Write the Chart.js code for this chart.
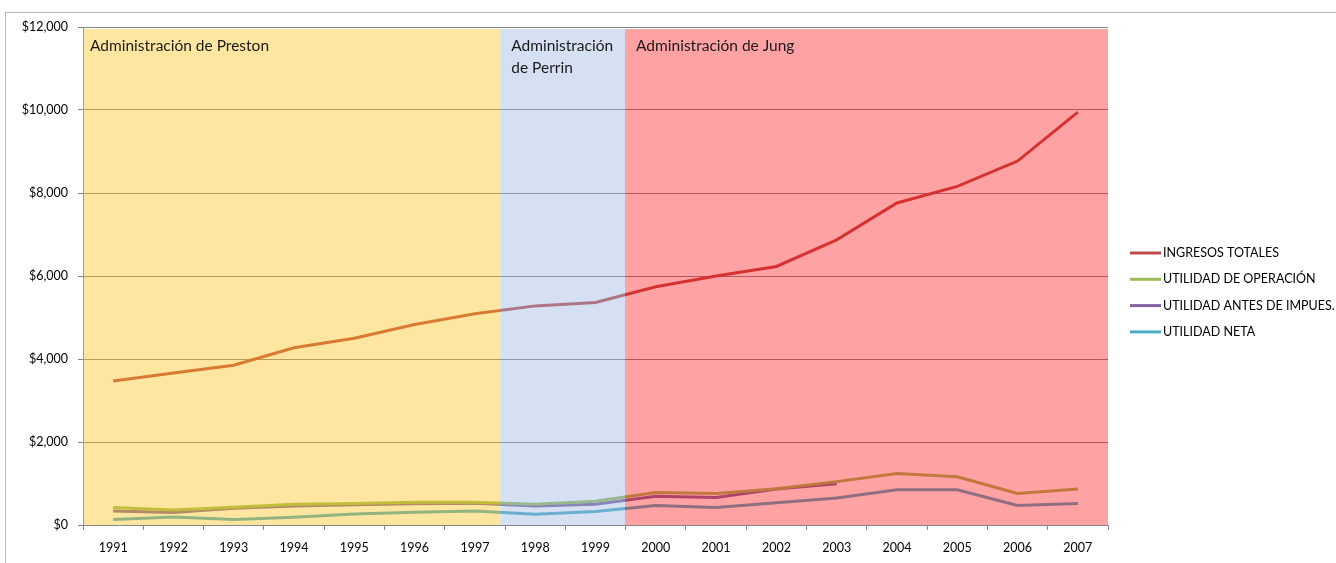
<!DOCTYPE html>
<html>
<head>
<meta charset="utf-8">
<script src="https://cdn.jsdelivr.net/npm/chart.js@4/dist/chart.umd.min.js"></script>
<style>
  html, body { margin: 0; padding: 0; background: #ffffff; }
  #wrap { width: 1336px; height: 563px; }
</style>
</head>
<body>
<div id="wrap"><canvas id="c" width="1336" height="563"></canvas></div>
<script>
const years = ['1991','1992','1993','1994','1995','1996','1997','1998','1999','2000','2001','2002','2003','2004','2005','2006','2007'];
const ingresosTotales = [3470, 3660, 3850, 4270, 4500, 4830, 5090, 5280, 5360, 5740, 6000, 6230, 6870, 7760, 8160, 8770, 9950];
const utilidadOperacion = [420, 360, 430, 500, 520, 550, 550, 500, 570, 785, 760, 875, 1045, 1240, 1160, 760, 865];
const utilidadAntesImpues = [340, 300, 405, 460, 485, 510, 527, 455, 500, 690, 665, 866, 995, null, null, null, null];
const utilidadNeta = [130, 195, 130, 185, 267, 308, 340, 260, 325, 470, 420, 535, 650, 850, 850, 470, 520];
const seriesNames = ['INGRESOS TOTALES', 'UTILIDAD DE OPERACIÓN', 'UTILIDAD ANTES DE IMPUES.', 'UTILIDAD NETA'];
const seriesColors = ['#BE4B48', '#9BBB59', '#8064A2', '#4BACC6'];
const yTicks = [0, 2000, 4000, 6000, 8000, 10000, 12000];
// administrations (category index ranges)
const bandNames = [['Administración de Preston'], ['Administración', 'de Perrin'], ['Administración de Jung']];
const bandFrom = [-0.5, 6.42, 8.49];
const bandTo = [6.42, 8.49, 16.5];
const bandColors = ['rgba(255,192,17,0.4)', 'rgba(150,180,222,0.4)', 'rgba(255,10,17,0.38)'];

const FONT = 'Lato, "Open Sans", sans-serif';

const bandsPlugin = {
  id: 'bands',
  beforeDraw(chart) {
    const ctx = chart.ctx;
    ctx.save();
    ctx.fillStyle = '#ffffff';
    ctx.fillRect(0, 0, chart.width, chart.height);
    ctx.strokeStyle = '#b8b8b8';
    ctx.lineWidth = 1;
    ctx.strokeRect(5.5, 12.5, chart.width + 20, chart.height + 20);
    ctx.restore();
  },
  afterDatasetsDraw(chart) {
    const ctx = chart.ctx;
    const x = chart.scales.x;
    const a = chart.chartArea;
    ctx.save();
    for (let i = 0; i < bandFrom.length; i++) {
      const x0 = x.getPixelForValue(bandFrom[i]);
      const x1 = x.getPixelForValue(bandTo[i]);
      ctx.fillStyle = bandColors[i];
      ctx.fillRect(x0, a.top + 2, x1 - x0, a.bottom - a.top - 2);
    }
    ctx.fillStyle = '#1a1a1a';
    ctx.font = '15.5px ' + FONT;
    ctx.textAlign = 'left';
    ctx.textBaseline = 'middle';
    for (let i = 0; i < bandNames.length; i++) {
      const x0 = x.getPixelForValue(bandFrom[i]);
      bandNames[i].forEach((t, k) => ctx.fillText(t, x0 + (i === 0 ? 7 : 11), a.top + 19 + k * 22));
    }
    ctx.restore();
  },
  afterDraw(chart) {
    const ctx = chart.ctx;
    ctx.save();
    ctx.font = '12.5px ' + FONT;
    ctx.textBaseline = 'middle';
    ctx.textAlign = 'left';
    for (let i = 0; i < seriesNames.length; i++) {
      const y = 253 + i * 26.3;
      ctx.strokeStyle = seriesColors[i];
      ctx.lineWidth = 3;
      ctx.beginPath();
      ctx.moveTo(1130, y);
      ctx.lineTo(1161, y);
      ctx.stroke();
      ctx.fillStyle = '#000000';
      ctx.fillText(seriesNames[i], 1163, y);
    }
    ctx.restore();
  }
};

const seriesData = [ingresosTotales, utilidadOperacion, utilidadAntesImpues, utilidadNeta];

new Chart(document.getElementById('c'), {
  type: 'line',
  data: {
    labels: years,
    datasets: seriesNames.map((n, i) => ({
      label: n,
      data: seriesData[i],
      borderColor: seriesColors[i],
      backgroundColor: seriesColors[i],
      borderWidth: 3,
      pointRadius: 0,
      tension: 0,
      spanGaps: false
    }))
  },
  options: {
    responsive: false,
    animation: false,
    layout: { padding: { left: 0, right: 228, top: 27, bottom: 0 } },
    plugins: { legend: { display: false }, tooltip: { enabled: false } },
    scales: {
      x: {
        offset: true,
        grid: { offset: true, drawOnChartArea: false, drawTicks: true, tickLength: 5, color: '#868686' },
        border: { color: '#868686', width: 1 },
        ticks: { color: '#000', font: { family: FONT, size: 12.5 }, padding: 10, maxRotation: 0, autoSkip: false },
        afterFit(s) { s.height = 38; }
      },
      y: {
        min: 0, max: 12000,
        afterBuildTicks(s) { s.ticks = yTicks.map(v => ({ value: v })); },
        grid: { color: '#868686', tickLength: 5 },
        border: { color: '#868686', width: 1 },
        ticks: {
          color: '#000', font: { family: FONT, size: 12.5 }, padding: 10,
          callback: v => '$' + Number(v).toLocaleString('en-US')
        },
        afterFit(s) { s.width = 83; }
      }
    }
  },
  plugins: [bandsPlugin]
});
</script>
</body>
</html>
